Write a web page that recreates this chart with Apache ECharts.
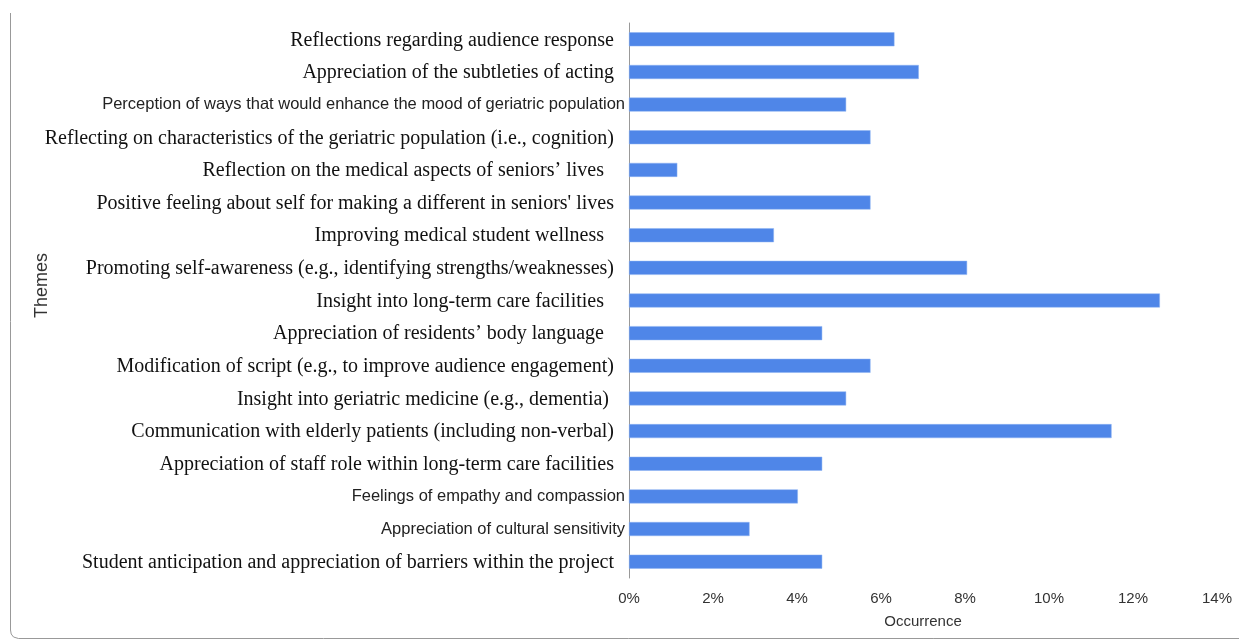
<!DOCTYPE html>
<html>
<head>
<meta charset="utf-8">
<script src="https://cdn.jsdelivr.net/npm/echarts@6/dist/echarts.min.js"></script>
<style>
  html, body { margin: 0; padding: 0; background: #fff; }
  #main { width: 1239px; height: 642px; }
</style>
</head>
<body>
<div id="main"></div>
<script>
// 主题（从上到下）
var themes = [
    'Reflections regarding audience response',
    'Appreciation of the subtleties of acting',
    'Perception of ways that would enhance the mood of geriatric population',
    'Reflecting on characteristics of the geriatric population (i.e., cognition)',
    'Reflection on the medical aspects of seniors\u2019 lives  ',
    'Positive feeling about self for making a different in seniors\' lives',
    'Improving medical student wellness  ',
    'Promoting self-awareness (e.g., identifying strengths/weaknesses)',
    'Insight into long-term care facilities  ',
    'Appreciation of residents\u2019 body language  ',
    'Modification of script (e.g., to improve audience engagement)',
    'Insight into geriatric medicine (e.g., dementia) ',
    'Communication with elderly patients (including non-verbal)',
    'Appreciation of staff role within long-term care facilities',
    'Feelings of empathy and compassion',
    'Appreciation of cultural sensitivity',
    'Student anticipation and appreciation of barriers within the project'
];

// 出现比例 %
var occurrence = [6.32, 6.90, 5.17, 5.75, 1.15, 5.75, 3.45, 8.05, 12.64, 4.60, 5.75, 5.17, 11.49, 4.60, 4.02, 2.87, 4.60];

// 这几条标签原图里是窄体无衬线字
var narrowLabels = [2, 14, 15];

var xTicks = { min: 0, max: 14, step: 2 };

var sansFont = 'Liberation Sans, Arial, sans-serif';

var chart = echarts.init(document.getElementById('main'));

chart.setOption({
    animation: false,
    backgroundColor: '#fff',
    grid: {
        left: 629,
        right: 22,
        top: 23,
        bottom: 64,
        containLabel: false
    },
    xAxis: {
        type: 'value',
        min: xTicks.min,
        max: xTicks.max,
        interval: xTicks.step,
        name: 'Occurrence',
        nameLocation: 'middle',
        nameGap: 36,
        nameTextStyle: {
            fontFamily: sansFont,
            fontSize: 15,
            color: '#333'
        },
        axisLine: { show: false },
        axisTick: { show: false },
        splitLine: { show: false },
        axisLabel: {
            formatter: '{value}%',
            margin: 13,
            fontFamily: sansFont,
            fontSize: 15,
            color: '#333'
        }
    },
    yAxis: {
        type: 'category',
        inverse: true,
        data: themes,
        axisLine: { lineStyle: { color: '#999', width: 1 } },
        axisTick: { inside: true, length: 4, lineStyle: { color: '#aaa' } },
        axisLabel: {
            margin: 4,
            interval: 0,
            formatter: function (value, index) {
                var key = narrowLabels.indexOf(index) >= 0 ? 'n' : 's';
                return '{' + key + '|' + value + '}';
            },
            rich: {
                s: {
                    fontFamily: 'Liberation Serif, Times New Roman, serif',
                    fontSize: 20,
                    color: '#111',
                    padding: [2, 11, 0, 0]
                },
                n: {
                    fontFamily: sansFont,
                    fontSize: 16.5,
                    color: '#222'
                }
            }
        }
    },
    series: [{
        type: 'bar',
        data: occurrence,
        barWidth: 14,
        itemStyle: {
            color: '#4f86e8',
            borderColor: '#8db3f3',
            borderWidth: 0.5
        }
    }],
    graphic: [
        {
            type: 'text',
            left: 33,
            top: 253,
            rotation: Math.PI / 2,
            style: {
                text: 'Themes',
                fontFamily: sansFont,
                fontSize: 18,
                fill: '#333'
            }
        },
        {
            // 外框（只露出左边和下边）
            type: 'polyline',
            shape: {
                points: [[10.5, 13], [10.5, 630], [11.2, 634], [13.5, 637], [18.5, 638.5], [1239, 638.5]]
            },
            style: { fill: null, stroke: '#999', lineWidth: 1 }
        }
    ]
});
</script>
</body>
</html>
